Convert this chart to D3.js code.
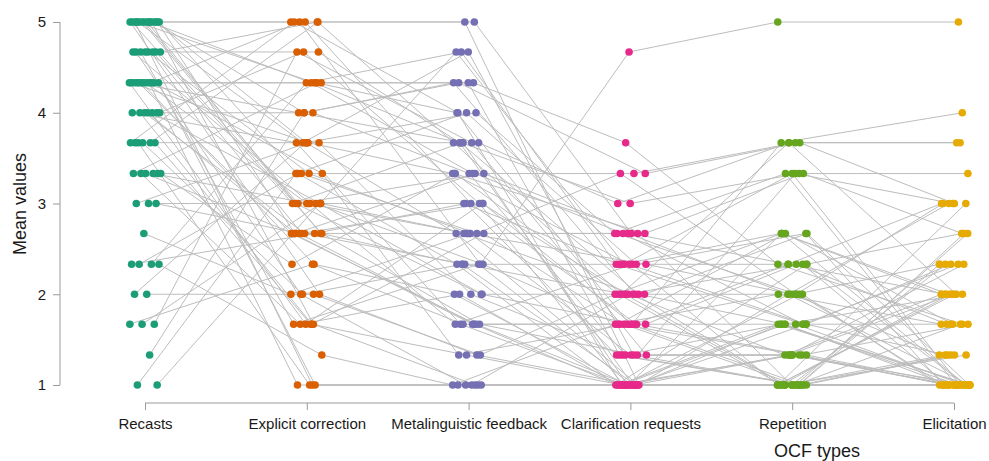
<!DOCTYPE html>
<html>
<head>
<meta charset="utf-8">
<script src="https://cdn.jsdelivr.net/npm/d3@7"></script>
<style>
  html, body { margin: 0; padding: 0; background: #ffffff; }
  svg { display: block; font-family: "Liberation Sans", Arial, sans-serif; }
</style>
</head>
<body>
<svg id="chart" width="989" height="461"></svg>
<script>
// Oral corrective feedback (OCF) types, in display order
const categories = ["Recasts", "Explicit correction", "Metalinguistic feedback",
                    "Clarification requests", "Repetition", "Elicitation"];

// Mean value per participant for each OCF type (same participant order in every array)
const recasts = [
  5, 5, 5, 5, 5, 5, 5, 5, 5, 5, 5, 5, 5, 5, 5, 5,
  4.67, 4.67, 4.67, 4.67, 4.67, 4.67, 4.67, 4.67,
  4.33, 4.33, 4.33, 4.33, 4.33, 4.33, 4.33, 4.33, 4.33, 4.33, 4.33, 4.33,
  4, 4, 4, 4, 4, 4, 4,
  3.67, 3.67, 3.67, 3.67, 3.67, 3.67,
  3.33, 3.33, 3.33, 3.33, 3.33, 3.33,
  3, 3, 3,
  2.67,
  2.33, 2.33, 2.33, 2.33,
  2, 2,
  1.67, 1.67, 1.67,
  1.33,
  1, 1
];
const explicitCorrection = [
  5, 4.33, 3.67, 3, 2.67, 1.67, 5, 3.33, 2.67, 1, 4, 3, 2, 4.33, 3.67, 2.67,
  4.67, 3, 2.67, 1.67, 5, 3.33, 2, 3,
  4.33, 3.67, 5, 2.67, 1, 3, 4, 3.33, 2.33, 1.67, 1, 4.33,
  4, 2.67, 3.67, 3, 1.67, 4.67, 2.67,
  3.67, 1.67, 2, 5, 5, 1,
  3.33, 2.67, 4.33, 3, 1.67, 2.33,
  3, 3.67, 2.67,
  2,
  2.67, 4.33, 3.33, 1.33,
  2, 3.67,
  4.67, 3, 2.33,
  4,
  3.33, 3
];
const metalinguisticFeedback = [
  5, 3.67, 2.67, 3.33, 1.67, 1, 3, 4, 2.33, 1, 4.33, 2, 1.33, 3.33, 4.67, 2.67,
  3.67, 1.67, 3, 2.33, 5, 2.67, 1, 3.67,
  4, 3.33, 2.33, 1.67, 1, 2.67, 3.67, 1.33, 2, 3, 1, 4.33,
  3.33, 2.33, 1.67, 4.67, 2.67, 3, 3.33,
  2, 1.33, 2.33, 4, 3.67, 1,
  2.67, 1.67, 4.33, 3, 2, 3.33,
  2.33, 3.67, 1.67,
  2.67,
  3, 4.67, 2.33, 1,
  1.33, 4,
  3.67, 2.67, 1.67,
  4.33,
  3.33, 2
];
const clarificationRequests = [
  1, 2, 1, 2.67, 1.33, 1, 1.67, 2.33, 1, 1, 2, 1.67, 1, 3.33, 1.33, 2,
  1, 2.33, 1.67, 1, 2.67, 1.33, 1, 3,
  1.67, 2.33, 4.67, 1, 2, 2.67, 1, 1.67, 1, 2, 1, 3.67,
  1.33, 2, 1, 2.33, 1.67, 1, 2.67,
  1.33, 1, 2.33, 1, 2, 1,
  3.33, 1.67, 1.33, 2.33, 1, 2,
  1.67, 3, 1,
  2.67,
  1.33, 2.33, 1, 1.67,
  2, 2.67,
  1.33, 2.33, 1.67,
  3.33,
  2.67, 2
];
const repetition = [
  1, 1.67, 2, 1, 3.33, 1, 1.33, 2.67, 1, 1.67, 1, 2.33, 1.33, 3.67, 1, 2,
  1.67, 1, 3.67, 1, 2.33, 1.33, 1, 3.33,
  1, 1.67, 5, 2.67, 1.33, 2, 1, 1.67, 1, 2.33, 1, 2.33,
  1.67, 1, 1.33, 3.33, 1, 2, 1.67,
  1.33, 1, 2.67, 1.67, 3.67, 1,
  2, 1.33, 1, 2.33, 1.67, 1,
  2.67, 3.67, 1.33,
  2,
  1, 1.67, 2.33, 2,
  2.67, 3.33,
  1.33, 2, 2.33,
  3.67,
  3.33, 2.67
];
const elicitation = [
  1, 2, 1, 2.33, 3, 1, 1.67, 1, 2, 1, 1.33, 3, 1, 3.67, 2.67, 1,
  1.33, 2, 4, 1, 2, 1, 1.67, 3.33,
  1, 2.33, 5, 1, 2, 3, 1, 1, 2.33, 1, 1, 1.67,
  1, 1.33, 2, 1, 2.67, 1, 1.67,
  1, 3, 2, 1, 2, 1,
  2.33, 1, 1.33, 2.67, 1, 2,
  1.67, 3.67, 1,
  3,
  1.33, 2.33, 1, 1.67,
  2, 1,
  2.33, 1.33, 1.67,
  3,
  2.67, 1
];

// y-axis tick values
const yTicks = [1, 2, 3, 4, 5];

// Dark2 colours, one per OCF type
const colors = ["#1B9E77", "#D95F02", "#7570B3", "#E7298A", "#66A61E", "#E6AB02"];

const seriesByType = [recasts, explicitCorrection, metalinguisticFeedback,
                      clarificationRequests, repetition, elicitation];

const svg = d3.select("#chart");

const x = d3.scalePoint().domain(categories).range([145, 954]);
const y = d3.scaleLinear().domain([1, 5]).range([385, 22]);

// Deterministic horizontal jitter (golden-ratio sequence) so points at the same level separate
const jitterHalf = 16;
function jitter(i, c) {
  const f = ((i + 1) * 0.6180339887 + c * 0.3819660113 + c * i * 0.1234) % 1;
  return (f - 0.5) * 2 * jitterHalf;
}

const nParticipants = recasts.length;
const participants = d3.range(nParticipants).map(i =>
  categories.map((cat, c) => ({
    cat, c,
    value: seriesByType[c][i],
    px: x(cat) + jitter(i, c)
  }))
);

// Participant profiles
const line = d3.line().x(d => d.px).y(d => y(d.value));
svg.append("g")
  .attr("fill", "none")
  .attr("stroke", "#bdbdbd")
  .attr("stroke-width", 1)
  .selectAll("path")
  .data(participants)
  .join("path")
  .attr("d", line);

// Points
svg.append("g")
  .selectAll("g")
  .data(participants)
  .join("g")
  .selectAll("circle")
  .data(d => d)
  .join("circle")
  .attr("cx", d => d.px)
  .attr("cy", d => y(d.value))
  .attr("r", 3.8)
  .attr("fill", d => colors[d.c]);

// Y axis (range frame)
const yAxis = d3.axisLeft(y).tickValues(yTicks).tickSize(7).tickPadding(7).tickFormat(d3.format("d"));
const yG = svg.append("g").attr("transform", "translate(60,0)").call(yAxis);
yG.select(".domain").attr("stroke", "#9a9a9a").attr("d", `M0,${y(5)}V${y(1)}`);
yG.selectAll(".tick line").attr("stroke", "#9a9a9a");
yG.selectAll(".tick text").attr("fill", "#1a1a1a").style("font-size", "15px");

// X axis (range frame)
const xAxis = d3.axisBottom(x).tickSize(7).tickPadding(8);
const xG = svg.append("g").attr("transform", "translate(0,403)").call(xAxis);
xG.select(".domain").attr("stroke", "#9a9a9a").attr("d", `M${x(categories[0])},0H${x(categories[5])}`);
xG.selectAll(".tick line").attr("stroke", "#9a9a9a");
xG.selectAll(".tick text").attr("fill", "#1a1a1a").style("font-size", "15px");

// Axis titles
svg.append("text")
  .attr("transform", "translate(26,204) rotate(-90)")
  .attr("text-anchor", "middle")
  .attr("fill", "#1a1a1a")
  .style("font-size", "18px")
  .text("Mean values");

svg.append("text")
  .attr("x", 817)
  .attr("y", 457)
  .attr("text-anchor", "middle")
  .attr("fill", "#1a1a1a")
  .style("font-size", "18px")
  .text("OCF types");
</script>
</body>
</html>
